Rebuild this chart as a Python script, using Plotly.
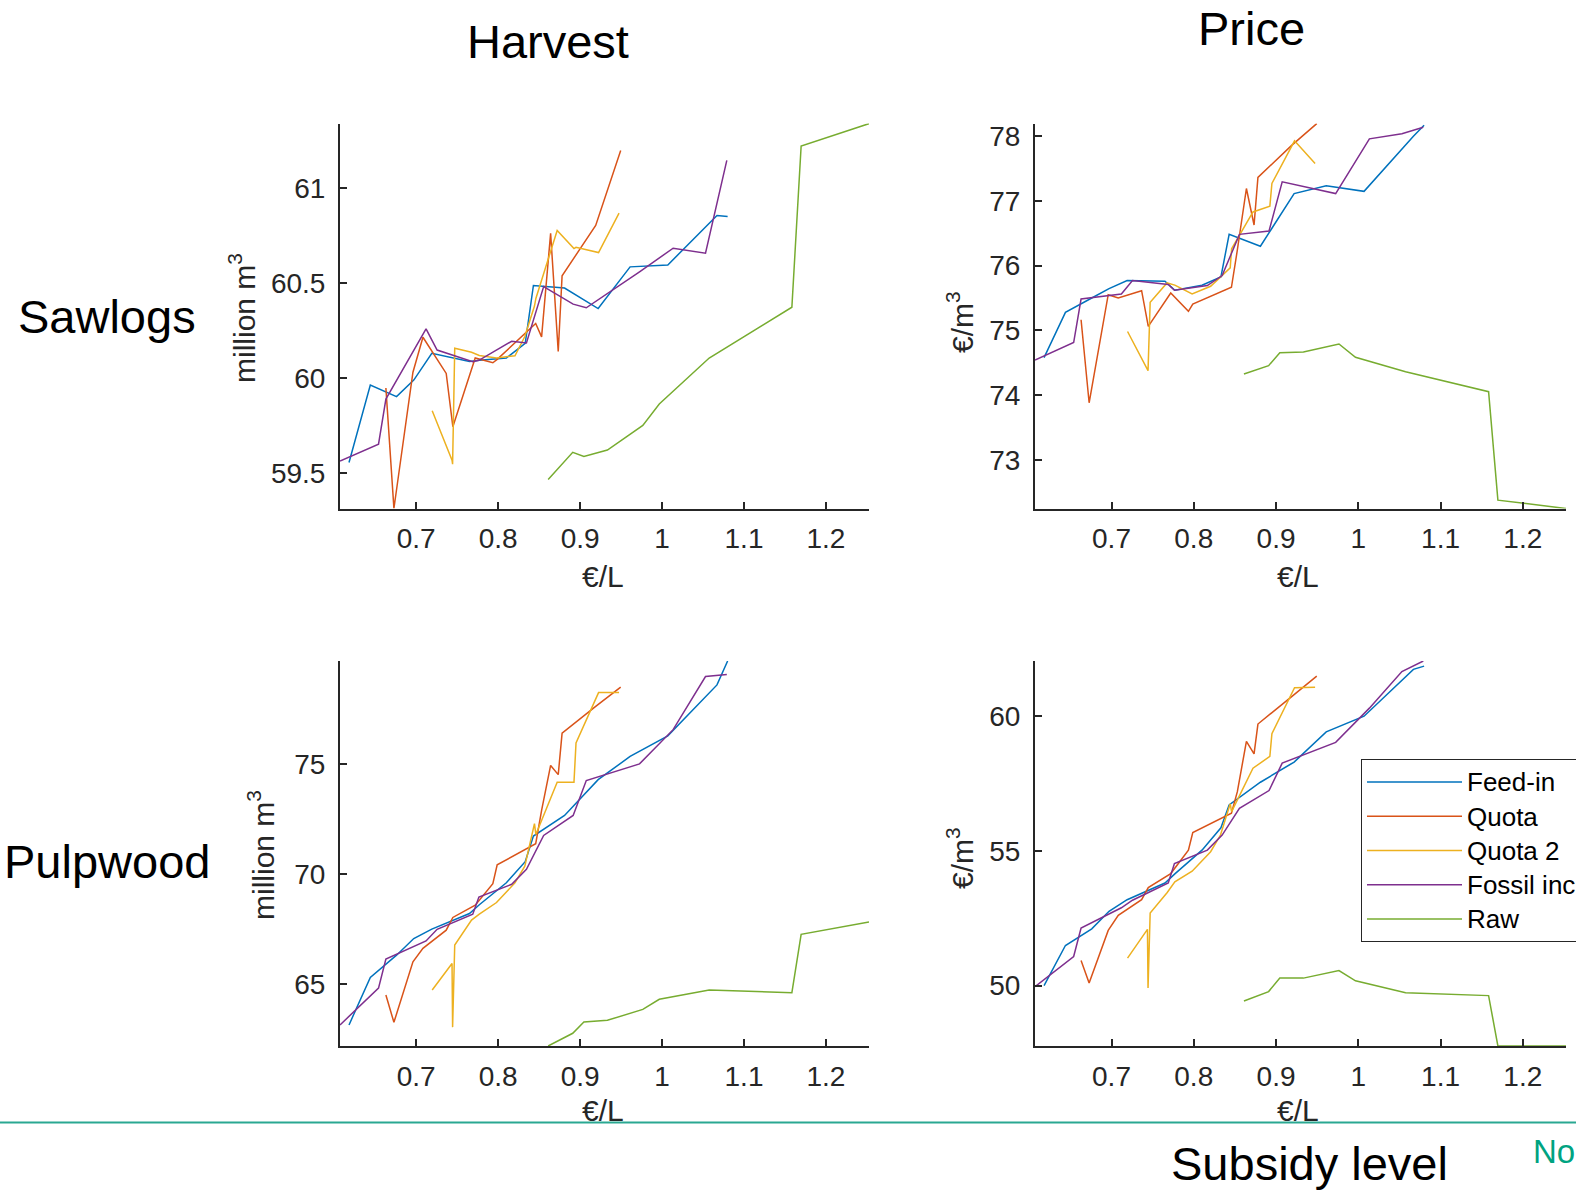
import plotly.graph_objects as go

# ---------------- data ----------------
series_names = ["Feed-in", "Quota", "Quota 2", "Fossil increase", "Raw"]
series_colors = ["#0072BD", "#D95319", "#EDB120", "#7E2F8E", "#77AC30"]

# subsidy level (EUR/L) per series
feedin_x = [0.618, 0.644, 0.676, 0.697, 0.719, 0.765, 0.777, 0.810, 0.833, 0.843, 0.881, 0.922, 0.961, 1.007, 1.067, 1.080]
quota_x = [0.663, 0.6728, 0.696, 0.7082, 0.7366, 0.7447, 0.772, 0.7935, 0.7988, 0.8458, 0.853, 0.864, 0.8733, 0.878, 0.919, 0.9495]
quota2_x = [0.7195, 0.7437, 0.7444, 0.747, 0.7675, 0.777, 0.798, 0.8205, 0.8325, 0.8443, 0.846, 0.872, 0.8925, 0.895, 0.9225, 0.9475]
fossil_x = [0.607, 0.654, 0.663, 0.712, 0.7255, 0.769, 0.7765, 0.8165, 0.8345, 0.8555, 0.8915, 0.9075, 0.9725, 1.0135, 1.053, 1.079]
raw_x = [0.861, 0.891, 0.9046, 0.9333, 0.9765, 0.9966, 1.0575, 1.1584, 1.1697, 1.2525]

# Sawlogs harvest (million m3)
feedin_saw_harvest = [59.558, 59.965, 59.904, 59.991, 60.132, 60.089, 60.095, 60.107, 60.184, 60.488, 60.475, 60.367, 60.586, 60.596, 60.856, 60.851]
quota_saw_harvest = [59.949, 59.316, 60.032, 60.216, 60.026, 59.746, 60.107, 60.082, 60.10, 60.288, 60.218, 60.762, 60.141, 60.539, 60.804, 61.198]
quota2_saw_harvest = [59.83, 59.57, 59.549, 60.158, 60.137, 60.12, 60.107, 60.119, 60.22, 60.38, 60.42, 60.777, 60.682, 60.689, 60.661, 60.868]
fossil_saw_harvest = [59.565, 59.654, 59.891, 60.26, 60.149, 60.088, 60.095, 60.195, 60.186, 60.482, 60.39, 60.371, 60.56, 60.684, 60.658, 61.146]
raw_saw_harvest = [59.468, 59.611, 59.589, 59.623, 59.753, 59.865, 60.107, 60.374, 61.221, 61.339]

# Sawlogs price (EUR/m3)
feedin_saw_price = [74.579, 75.278, 75.50, 75.646, 75.770, 75.759, 75.620, 75.697, 75.827, 76.484, 76.30, 77.115, 77.234, 77.149, 78.0, 78.17]
quota_saw_price = [75.164, 73.881, 75.552, 75.500, 75.614, 75.061, 75.578, 75.294, 75.407, 75.666, 76.243, 77.193, 76.629, 77.364, 77.86, 78.196]
quota2_saw_price = [74.983, 74.40, 74.378, 75.433, 75.733, 75.70, 75.562, 75.682, 75.827, 75.966, 76.261, 76.83, 76.92, 77.27, 77.93, 77.58]
fossil_saw_price = [74.543, 74.812, 75.485, 75.563, 75.770, 75.708, 75.62, 75.692, 75.847, 76.484, 76.536, 77.296, 77.115, 77.96, 78.04, 78.14]
raw_saw_price = [74.326, 74.455, 74.656, 74.667, 74.79, 74.584, 74.362, 74.053, 72.376, 72.247]

# Pulpwood harvest (million m3)
feedin_pulp_harvest = [63.12, 65.29, 66.3, 67.06, 67.485, 68.2, 68.6, 69.6, 70.56, 71.73, 72.67, 74.30, 75.36, 76.3, 78.62, 79.71]
quota_pulp_harvest = [64.485, 63.24, 66.0, 66.61, 67.44, 68.02, 68.58, 69.56, 70.42, 71.38, 72.9, 74.95, 74.53, 76.42, 77.64, 78.52]
quota2_pulp_harvest = [64.71, 65.92, 63.02, 66.76, 67.9, 68.17, 68.70, 69.6, 70.36, 72.30, 71.80, 74.18, 74.18, 75.97, 78.27, 78.27]
fossil_pulp_harvest = [63.12, 64.80, 66.12, 66.95, 67.48, 68.17, 68.95, 69.53, 70.21, 71.76, 72.67, 74.26, 75.02, 76.58, 79.0, 79.09]
raw_pulp_harvest = [62.16, 62.74, 63.25, 63.33, 63.83, 64.29, 64.71, 64.59, 67.25, 67.81]

# Pulpwood price (EUR/m3)
feedin_pulp_price = [50.0, 51.49, 52.11, 52.76, 53.19, 53.81, 54.15, 55.03, 55.86, 56.71, 57.55, 58.30, 59.42, 60.0, 61.74, 61.86]
quota_pulp_price = [50.93, 50.10, 52.05, 52.61, 53.19, 53.64, 54.16, 55.03, 55.68, 56.40, 57.2, 59.07, 58.60, 59.71, 60.73, 61.49]
quota2_pulp_price = [51.02, 52.09, 49.91, 52.70, 53.45, 53.85, 54.25, 54.97, 55.59, 56.75, 56.46, 58.07, 58.51, 59.35, 61.06, 61.08]
fossil_pulp_price = [49.96, 51.08, 52.14, 52.89, 53.17, 53.81, 54.53, 55.03, 55.59, 56.58, 57.24, 58.26, 59.03, 60.3, 61.66, 62.05]
raw_pulp_price = [49.43, 49.78, 50.28, 50.28, 50.56, 50.18, 49.74, 49.63, 47.76, 47.76]

# tick labels
x_ticks = [0.7, 0.8, 0.9, 1.0, 1.1, 1.2]
x_ticklabels = ["0.7", "0.8", "0.9", "1", "1.1", "1.2"]
saw_harvest_ticks = [59.5, 60, 60.5, 61]
saw_harvest_ticklabels = ["59.5", "60", "60.5", "61"]
saw_price_ticks = [73, 74, 75, 76, 77, 78]
saw_price_ticklabels = ["73", "74", "75", "76", "77", "78"]
pulp_harvest_ticks = [65, 70, 75]
pulp_harvest_ticklabels = ["65", "70", "75"]
pulp_price_ticks = [50, 55, 60]
pulp_price_ticklabels = ["50", "55", "60"]

# ---------------- figure ----------------
W, H = 1576, 1191
FONT = "Liberation Sans, Arial, Helvetica, sans-serif"
AXC = "#262626"

xs = [feedin_x, quota_x, quota2_x, fossil_x, raw_x]
panels = [
    ("x", "y", [feedin_saw_harvest, quota_saw_harvest, quota2_saw_harvest, fossil_saw_harvest, raw_saw_harvest],
     saw_harvest_ticks, saw_harvest_ticklabels, (340, 869), (123.6, 508.5)),
    ("x2", "y2", [feedin_saw_price, quota_saw_price, quota2_saw_price, fossil_saw_price, raw_saw_price],
     saw_price_ticks, saw_price_ticklabels, (1035, 1566), (123.6, 508.5)),
    ("x3", "y3", [feedin_pulp_harvest, quota_pulp_harvest, quota2_pulp_harvest, fossil_pulp_harvest, raw_pulp_harvest],
     pulp_harvest_ticks, pulp_harvest_ticklabels, (340, 869), (661, 1046)),
    ("x4", "y4", [feedin_pulp_price, quota_pulp_price, quota2_pulp_price, fossil_pulp_price, raw_pulp_price],
     pulp_price_ticks, pulp_price_ticklabels, (1035, 1566), (661, 1046)),
]

fig = go.Figure()
all_x = [v for s in xs for v in s]
xrange_ = [min(all_x), max(all_x)]

layout = {}
for pi, (xa, ya, ys, yt, ytl, xd, yd) in enumerate(panels):
    for si in range(5):
        fig.add_trace(go.Scatter(
            x=xs[si], y=ys[si], mode="lines",
            name='<span style="font-size:26px">' + series_names[si] + "</span>",
            line=dict(color=series_colors[si], width=1.5),
            xaxis=xa, yaxis=ya, legendgroup=series_names[si],
            showlegend=(pi == 3), hoverinfo="skip"))
    all_y = [v for s in ys for v in s]
    common = dict(showline=True, linecolor=AXC, linewidth=2, ticks="inside", ticklen=7,
                  tickwidth=2, tickcolor=AXC, showgrid=False, zeroline=False,
                  tickfont=dict(family=FONT, size=28, color=AXC))
    xkey = "xaxis" if xa == "x" else "xaxis" + xa[1:]
    ykey = "yaxis" if ya == "y" else "yaxis" + ya[1:]
    layout[xkey] = dict(domain=[xd[0] / W, xd[1] / W], range=xrange_, anchor=ya,
                        tickvals=x_ticks, ticktext=x_ticklabels, ticklabelstandoff=4, **common)
    layout[ykey] = dict(domain=[1 - yd[1] / H, 1 - yd[0] / H], range=[min(all_y), max(all_y)],
                        anchor=xa, tickvals=yt, ticktext=ytl, ticklabelstandoff=7, **common)

def ann(text, px, py, size, color="black", angle=0, xanchor="center"):
    return dict(text=text, x=px / W, y=1 - py / H, xref="paper", yref="paper",
                xanchor=xanchor, yanchor="middle", showarrow=False, textangle=angle,
                font=dict(family=FONT, size=size, color=color))

annotations = [
    ann("Harvest", 548, 42, 47),
    ann("Price", 1251, 29, 47),
    ann("Sawlogs", 107, 317, 47),
    ann("Pulpwood", 107, 861, 47),
    ann("Subsidy level", 1309, 1163, 47),
    ann("€/L", 603, 576, 30, AXC),
    ann("€/L", 1298, 576, 30, AXC),
    ann("€/L", 603, 1110, 30, AXC),
    ann("€/L", 1298, 1110, 30, AXC),
    ann("million m<sup>3</sup>", 242, 318, 30, AXC, -90),
    ann("million m<sup>3</sup>", 261, 855, 30, AXC, -90),
    ann("€/m<sup>3</sup>", 960, 322, 30, AXC, -90),
    ann("€/m<sup>3</sup>", 960, 858, 30, AXC, -90),
    ann("No", 1531, 1151, 33, "#00A381", 0, "left"),
]

fig.update_layout(
    width=W, height=H,
    margin=dict(l=0, r=0, t=0, b=0, autoexpand=False),
    paper_bgcolor="white", plot_bgcolor="white",
    annotations=annotations,
    shapes=[dict(type="line", xref="paper", yref="paper", x0=0, x1=1,
                 y0=1 - 1122.6 / H, y1=1 - 1122.6 / H,
                 line=dict(color="#2AA892", width=2))],
    legend=dict(x=1361 / W, xanchor="left", y=1 - 759 / H, yanchor="top",
                bgcolor="white", bordercolor=AXC, borderwidth=1,
                font=dict(family=FONT, size=24, color="black"),
                itemwidth=95, tracegroupgap=0),
    **layout,
)

fig.write_html("out.html", config={"displayModeBar": False},
               post_script="document.body.style.margin='0';document.body.style.overflow='hidden';")
